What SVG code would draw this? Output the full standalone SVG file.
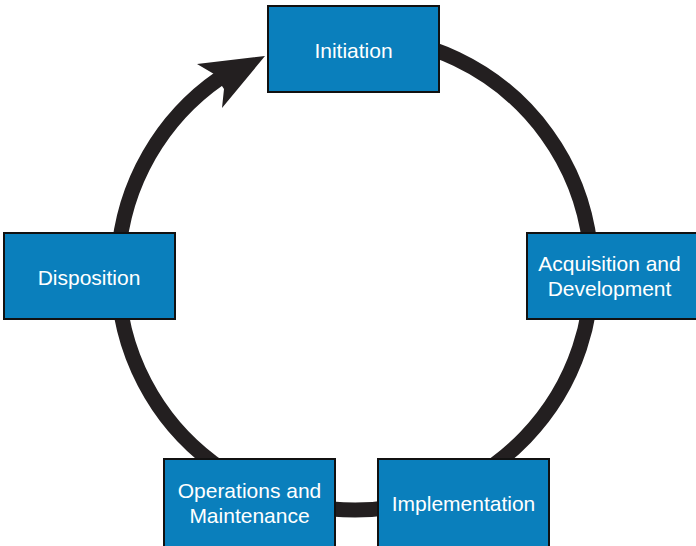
<svg xmlns="http://www.w3.org/2000/svg" width="696" height="546" viewBox="0 0 696 546">
<style>
.box{fill:#0a7fbc;stroke:#111;stroke-width:2}
.lbl{fill:#fff;font-family:"Liberation Sans",Arial,sans-serif;font-size:21px;text-anchor:middle}
.ring{fill:none;stroke:#231f20;stroke-width:15}
</style>
<rect width="696" height="546" fill="#fff"/>
<g id="connectors">
<path class="ring" d="M 354.5 36 A 237 237 0 1 1 220.0 78.0"/>
<polygon fill="#231f20" points="265,56 197,64 214,74 224,89 222,108"/>
</g>
<g id="initiation">
<rect class="box" x="268" y="6" width="171" height="86"/>
<text class="lbl" x="353.5" y="57.5">Initiation</text>
</g>
<g id="acquisition">
<rect class="box" x="527" y="233" width="170" height="86"/>
<text class="lbl" x="609.5" y="271">Acquisition and</text>
<text class="lbl" x="609.5" y="296">Development</text>
</g>
<g id="implementation">
<rect class="box" x="378" y="459" width="171" height="88"/>
<text class="lbl" x="463.5" y="511">Implementation</text>
</g>
<g id="operations">
<rect class="box" x="164" y="459" width="171" height="88"/>
<text class="lbl" x="249.5" y="497.5">Operations and</text>
<text class="lbl" x="249.5" y="522.5">Maintenance</text>
</g>
<g id="disposition">
<rect class="box" x="4" y="233" width="171" height="86"/>
<text class="lbl" x="89" y="284.5">Disposition</text>
</g>
</svg>
